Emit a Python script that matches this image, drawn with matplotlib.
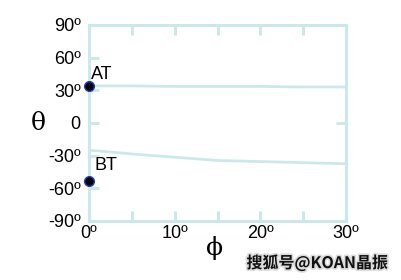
import matplotlib.pyplot as plt
import matplotlib.patheffects as pe

plt.rcParams['font.family'] = ['Liberation Sans', 'DejaVu Sans']

# data (degrees)
phi = [0, 5, 10, 15, 20, 25, 30]
theta_at = [34, 34, 33.5, 33.5, 33.5, 33, 33]
theta_bt = [-25, -28.5, -31.5, -34.5, -35.5, -36.5, -37.5]
points = [(0, 34, 'AT'), (0, -53, 'BT')]

x_ticks = [0, 10, 20, 30]
x_minor = [5, 15, 25]
y_ticks = [-90, -60, -30, 0, 30, 60, 90]
y_labels = ['-90º', '-60º', '-30º', '0', '30º', '60º', '90º']

line_col = '#cde8ea'

fig = plt.figure(figsize=(4.01, 2.80), dpi=100)
ax = fig.add_axes([0.222, 0.211, 0.641, 0.700])

ax.plot(phi, theta_at, color=line_col, lw=2)
ax.plot(phi, theta_bt, color=line_col, lw=2)

for x, y, name in points:
    ax.plot(x, y, 'o', ms=7, mfc='black', mec='#1f3fbf', mew=1, clip_on=False, zorder=5)
ax.text(0.25, 34 + 2.5, 'AT', fontsize=13, va='bottom', ha='left')
ax.text(0.6, -53 + 6, 'BT', fontsize=13, va='bottom', ha='left')

ax.set_xlim(0, 30)
ax.set_ylim(-90, 90)

for s in ax.spines.values():
    s.set_color(line_col)
    s.set_linewidth(2.2)

ax.set_xticks(x_ticks)
ax.set_xticklabels(['%dº' % v for v in x_ticks])
ax.set_xticks(x_minor, minor=True)
ax.set_yticks(y_ticks)
ax.set_yticklabels(y_labels)
ax.tick_params(which='both', direction='in', color=line_col, width=2.2, length=7,
               labelsize=13, top=True, pad=3)
ax.tick_params(axis='y', right=False)
ax.tick_params(axis='y', pad=6)
ax.tick_params(axis='x', which='minor', top=True, bottom=True)
# single tick on the right at zero
ax.plot([30], [0], marker=0, ms=7, mew=2.2, color=line_col, clip_on=False)

fig.text(38 / 401, 1 - 123 / 280, 'θ', family='DejaVu Serif', fontsize=18,
         ha='center', va='center')
fig.text(215 / 401, 1 - 248 / 280, 'ϕ', family='DejaVu Serif', fontsize=18,
         ha='center', va='center')

fig.text(388 / 401, 1 - 263 / 280, '搜狐号@KOAN晶振',
         family=['Noto Sans CJK SC', 'DejaVu Sans'], fontsize=11.5, color='#111111',
         weight='bold', ha='right', va='center',
         path_effects=[pe.withStroke(linewidth=2.5, foreground='#dddddd')])

fig.savefig('out.png', dpi=100)
